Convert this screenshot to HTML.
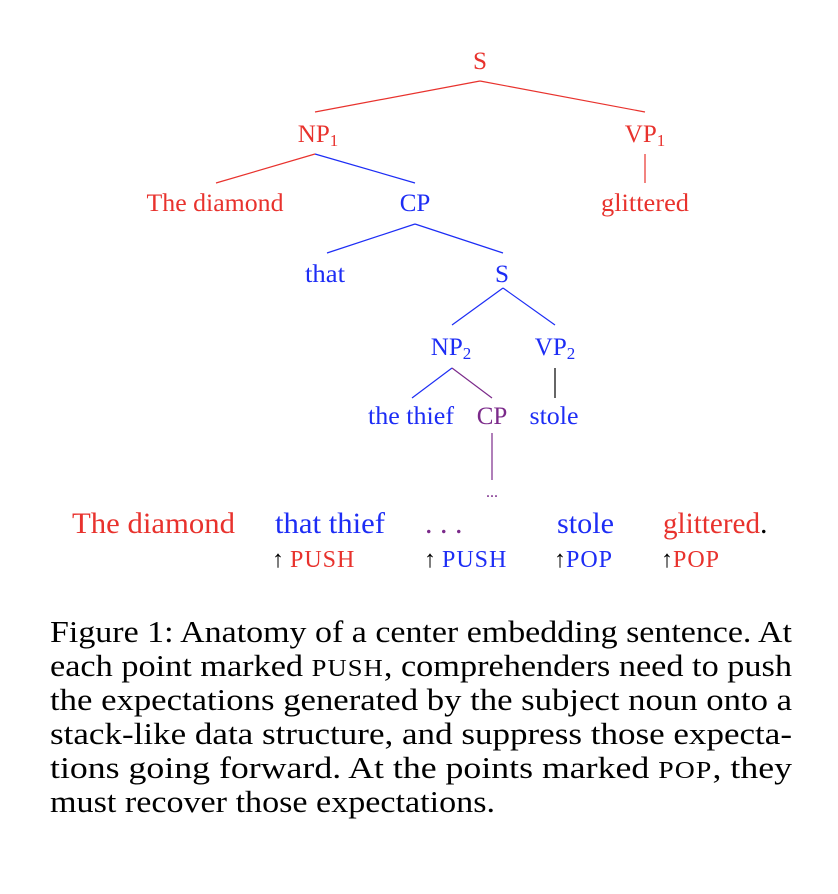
<!DOCTYPE html>
<html><head><meta charset="utf-8"><style>
html,body{margin:0;padding:0;background:#fff;}
svg{display:block;font-family:"Liberation Serif",serif;}
</style></head><body>
<svg width="838" height="894" viewBox="0 0 838 894" xmlns="http://www.w3.org/2000/svg">
<g stroke-width="1.2" fill="none">
<line x1="480" y1="81" x2="315" y2="112" stroke="#e8322d"/>
<line x1="480" y1="81" x2="645" y2="112" stroke="#e8322d"/>
<line x1="315" y1="154" x2="216" y2="183" stroke="#e8322d"/>
<line x1="315" y1="154" x2="415" y2="183" stroke="#1d2df5"/>
<line x1="645" y1="154" x2="645" y2="183" stroke="#e8322d"/>
<line x1="415" y1="224" x2="327" y2="253" stroke="#1d2df5"/>
<line x1="415" y1="224" x2="503" y2="253" stroke="#1d2df5"/>
<line x1="503" y1="288" x2="452" y2="325" stroke="#1d2df5"/>
<line x1="503" y1="288" x2="555" y2="325" stroke="#1d2df5"/>
<line x1="452" y1="368" x2="412" y2="398" stroke="#1d2df5"/>
<line x1="452" y1="368" x2="492" y2="398" stroke="#7b2a8a"/>
<line x1="555" y1="368" x2="555" y2="398" stroke="#000"/>
<line x1="492" y1="433" x2="492" y2="480" stroke="#7b2a8a"/>
</g>
<g font-size="25" text-anchor="middle">
<text x="480" y="69" fill="#e8322d" textLength="14" lengthAdjust="spacingAndGlyphs">S</text>
<text x="318" y="142" fill="#e8322d">NP<tspan font-size="17" dy="4">1</tspan></text>
<text x="645" y="142" fill="#e8322d">VP<tspan font-size="17" dy="4">1</tspan></text>
<text x="215" y="211" fill="#e8322d" textLength="137" lengthAdjust="spacingAndGlyphs">The diamond</text>
<text x="415" y="211" fill="#1d2df5">CP</text>
<text x="645" y="211" fill="#e8322d" textLength="88" lengthAdjust="spacingAndGlyphs">glittered</text>
<text x="325" y="282" fill="#1d2df5" textLength="40" lengthAdjust="spacingAndGlyphs">that</text>
<text x="502" y="282" fill="#1d2df5" textLength="14" lengthAdjust="spacingAndGlyphs">S</text>
<text x="451" y="355" fill="#1d2df5">NP<tspan font-size="17" dy="4">2</tspan></text>
<text x="555" y="355" fill="#1d2df5">VP<tspan font-size="17" dy="4">2</tspan></text>
<text x="411" y="424" fill="#1d2df5" textLength="86" lengthAdjust="spacingAndGlyphs">the thief</text>
<text x="492" y="424" fill="#7b2a8a">CP</text>
<text x="554" y="424" fill="#1d2df5" textLength="49" lengthAdjust="spacingAndGlyphs">stole</text>
<text x="492" y="497" fill="#7b2a8a" font-size="16">...</text>
</g>
<g font-size="30">
<text x="72" y="533" fill="#e8322d" textLength="163" lengthAdjust="spacingAndGlyphs">The diamond</text>
<text x="275" y="533" fill="#1d2df5" textLength="110" lengthAdjust="spacingAndGlyphs">that thief</text>
<text x="425" y="533" fill="#7b2a8a">. . .</text>
<text x="557" y="533" fill="#1d2df5" textLength="57" lengthAdjust="spacingAndGlyphs">stole</text>
<text x="663" y="533" fill="#e8322d" textLength="97" lengthAdjust="spacingAndGlyphs">glittered</text>
<text x="760" y="533" fill="#000">.</text>
</g>
<g font-size="24">
<text x="272" y="567" fill="#000">↑ <tspan fill="#e8322d" letter-spacing="1">PUSH</tspan></text>
<text x="424" y="567" fill="#000">↑ <tspan fill="#1d2df5" letter-spacing="1">PUSH</tspan></text>
<text x="554" y="567" fill="#000">↑<tspan fill="#1d2df5" letter-spacing="1">POP</tspan></text>
<text x="661" y="567" fill="#000">↑<tspan fill="#e8322d" letter-spacing="1">POP</tspan></text>
</g>
<g font-size="31" fill="#000">
<text x="50" y="642" textLength="742" lengthAdjust="spacingAndGlyphs">Figure 1: Anatomy of a center embedding sentence. At</text>
<text x="50" y="676" textLength="742" lengthAdjust="spacingAndGlyphs">each point marked <tspan font-size="24" letter-spacing="1">PUSH</tspan>, comprehenders need to push</text>
<text x="50" y="710" textLength="742" lengthAdjust="spacingAndGlyphs">the expectations generated by the subject noun onto a</text>
<text x="50" y="744" textLength="742" lengthAdjust="spacingAndGlyphs">stack-like data structure, and suppress those expecta-</text>
<text x="50" y="778" textLength="742" lengthAdjust="spacingAndGlyphs">tions going forward.  At the points marked <tspan font-size="24" letter-spacing="1">POP</tspan>, they</text>
<text x="50" y="812" textLength="445" lengthAdjust="spacingAndGlyphs">must recover those expectations.</text>
</g>
</svg>
</body></html>
